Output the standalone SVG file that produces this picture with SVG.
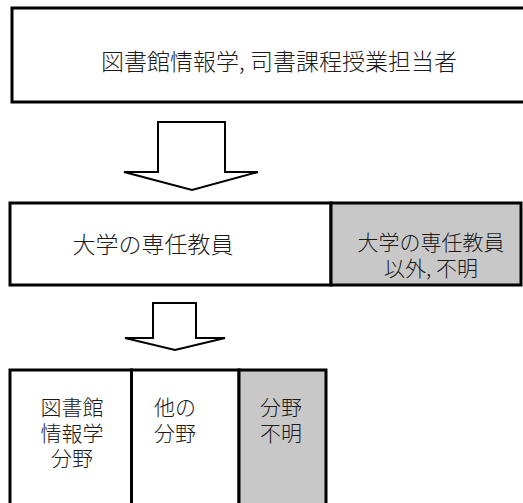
<svg xmlns="http://www.w3.org/2000/svg" width="523" height="503" viewBox="0 0 523 503">
<style>
.box{fill:#fff;stroke:#000;stroke-width:3}
.gray{fill:#c8c8c8;stroke:#000;stroke-width:3}
.arrow{fill:#fff;stroke:#000;stroke-width:2;stroke-linejoin:miter}
text{font-family:"Noto Sans CJK JP","Liberation Serif",sans-serif;font-size:23px;font-weight:300;fill:#1a1a1a;dominant-baseline:central}
.sm{font-size:21px}
</style>
<rect width="523" height="503" fill="#fff"/>
<g id="top">
<rect class="box" x="12" y="8" width="520" height="94"/>
<text x="279" y="60" text-anchor="middle">図書館情報学, 司書課程授業担当者</text>
</g>
<g id="connectors">
<polygon class="arrow" points="158,122 225,122 225,172 258,172 192,190 124,172 158,172"/>
<polygon class="arrow" points="153,303 196,303 196,338 225,338 175,350 125,338 153,338"/>
</g>
<g id="mid-left">
<rect class="box" x="10" y="203" width="321" height="82"/>
<text x="153" y="243" text-anchor="middle">大学の専任教員</text>
</g>
<g id="mid-right">
<rect class="gray" x="331" y="203" width="190" height="82"/>
<text class="sm" text-anchor="middle"><tspan x="431" y="241">大学の専任教員</tspan><tspan x="431" y="267">以外, 不明</tspan></text>
</g>
<g id="bot-1">
<rect class="box" x="10" y="370" width="121.5" height="140"/>
<text class="sm" text-anchor="middle"><tspan x="72" y="406">図書館</tspan><tspan x="72" y="431.5">情報学</tspan><tspan x="72" y="457">分野</tspan></text>
</g>
<g id="bot-2">
<rect class="box" x="131.5" y="370" width="107.5" height="140"/>
<text class="sm"><tspan x="154" y="406">他の</tspan><tspan x="154" y="431.5">分野</tspan></text>
</g>
<g id="bot-3">
<rect class="gray" x="239" y="370" width="87" height="140"/>
<text class="sm" text-anchor="middle"><tspan x="281" y="406">分野</tspan><tspan x="281" y="431.5">不明</tspan></text>
</g>
</svg>
